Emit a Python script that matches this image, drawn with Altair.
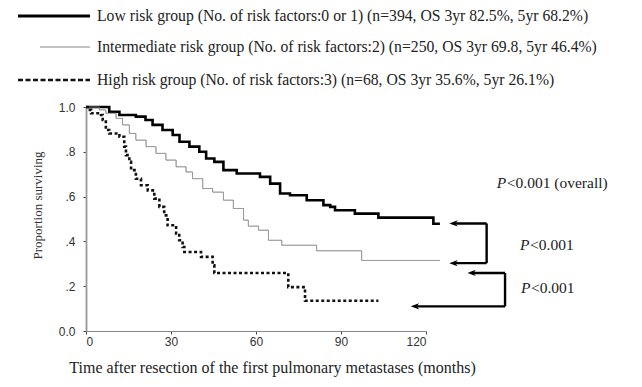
import altair as alt
import pandas as pd

# ---- data ----
low_t = [0, 8.2, 11.8, 17.6, 21, 23.5, 27, 30.6, 33, 36.5, 40, 42.4, 45.3, 48.5, 53.2, 61.4,
         65, 68.5, 72, 77.9, 83.8, 86.2, 87.9, 94.9, 103.2, 122.6, 124.9]
low_s = [1.0, 0.979, 0.964, 0.957, 0.942, 0.92, 0.897, 0.875, 0.845, 0.823, 0.80, 0.77, 0.755,
         0.718, 0.703, 0.688, 0.658, 0.614, 0.606, 0.584, 0.562, 0.554, 0.539, 0.524, 0.506,
         0.479, 0.479]
int_t = [0, 4.7, 7, 10.6, 12.9, 15.3, 17.6, 21.2, 24.7, 28.2, 31.8, 35.3, 37.6, 41.2, 44.7,
         48.5, 52, 55.6, 57.3, 60.9, 64.4, 69.1, 81.4, 97.3, 124.9]
int_s = [1.0, 0.987, 0.972, 0.949, 0.92, 0.882, 0.852, 0.823, 0.793, 0.763, 0.733, 0.71, 0.68,
         0.636, 0.62, 0.584, 0.547, 0.495, 0.468, 0.45, 0.405, 0.383, 0.358, 0.315, 0.315]
high_t = [0, 0.6, 1.8, 5.3, 5.9, 7, 8.2, 11.8, 13.5, 14.1, 15.3, 15.9, 17.6, 19.4, 21.8, 24.1,
          25.9, 27.6, 28.8, 31.8, 32.9, 34.1, 34.7, 40.6, 44.7, 45.3, 71.4, 77.3, 103.2]
high_s = [1.0, 0.987, 0.972, 0.964, 0.942, 0.897, 0.882, 0.867, 0.823, 0.785, 0.755, 0.718, 0.68,
          0.651, 0.628, 0.591, 0.554, 0.516, 0.472, 0.435, 0.405, 0.375, 0.353, 0.331, 0.293,
          0.259, 0.196, 0.135, 0.135]

groups = ["Low", "Intermediate", "High"]
legend_labels = [
    "Low risk group (No. of risk factors:0 or 1) (n=394, OS 3yr 82.5%, 5yr 68.2%)",
    "Intermediate  risk group (No. of risk factors:2) (n=250, OS 3yr 69.8, 5yr 46.4%)",
    "High risk group (No. of risk factors:3) (n=68, OS 3yr 35.6%, 5yr 26.1%)",
]

x_ticks = [0, 30, 60, 90, 120]
y_ticks = [0, 0.2, 0.4, 0.6, 0.8, 1.0]

# p-value annotations
p_x = [145, 153.2, 153.5]
p_y = [0.66, 0.383, 0.19]
p_rest = ["<0.001 (overall)", "<0.001", "<0.001"]

# comparison arrows (segments and heads)
seg_x1 = [129.7, 141.4, 129.7, 136.1, 147.9, 116.1]
seg_x2 = [141.4, 141.4, 141.4, 147.9, 147.9, 147.9]
seg_y1 = [0.48, 0.303, 0.303, 0.259, 0.11, 0.11]
seg_y2 = [0.48, 0.48, 0.303, 0.259, 0.259, 0.11]
head_x = [129.7, 129.7, 136.1, 116.1]
head_y = [0.48, 0.303, 0.259, 0.11]

X = alt.Scale(domain=[0, 120], nice=False, zero=False)
Y = alt.Scale(domain=[0, 1], nice=False)

serif = "Liberation Serif"

x_axis = alt.Axis(values=x_ticks, title="Time after resection of the first pulmonary metastases (months)",
                  titleX=186, titleY=36, titleFont=serif, titleFontSize=16,
                  titleFontWeight="normal", titleColor="#222", titleBaseline="middle",
                  labelFont="Liberation Sans", labelFontSize=12, labelColor="#333",
                  labelPadding=2, tickSize=3, tickColor="#444", domainColor="#888",
                  domainWidth=1.2, grid=False)
y_axis = alt.Axis(values=y_ticks, title="Proportion surviving",
                  labelExpr="datum.value == 0 ? '0.0' : (datum.value == 1 ? '1.0' : '.' + toString(round(datum.value*10)))",
                  titleX=-49, titleY=98, titleAngle=270, titleAlign="center",
                  titleBaseline="middle", titleFont=serif, titleFontSize=13,
                  titleFontWeight="normal", titleColor="#333",
                  labelFont="Liberation Sans", labelFontSize=12, labelColor="#333",
                  labelPadding=8, tickSize=3, tickColor="#444", domainColor="#999",
                  domainWidth=1.8, grid=False)

styles = {"Low": ("#000000", 2.6, [1, 0]),
          "Intermediate": ("#777777", 1.0, [1, 0]),
          "High": ("#111111", 2.6, [3, 2.5])}

curve_layers = []
for g, ts, ss in [("Low", low_t, low_s), ("Intermediate", int_t, int_s), ("High", high_t, high_s)]:
    df = pd.DataFrame({"t": ts, "s": ss, "group": g})
    c, w, d = styles[g]
    curve_layers.append(
        alt.Chart(df).mark_line(interpolate="step-after", color=c, strokeWidth=w,
                                strokeDash=d).encode(
            x=alt.X("t:Q", scale=X, axis=x_axis),
            y=alt.Y("s:Q", scale=Y, axis=y_axis)))

seg_df = pd.DataFrame({"x1": seg_x1, "x2": seg_x2, "y1": seg_y1, "y2": seg_y2})
segs = alt.Chart(seg_df).mark_rule(color="black", strokeWidth=2.4).encode(
    x=alt.X("x1:Q", scale=X, axis=x_axis), x2="x2:Q",
    y=alt.Y("y1:Q", scale=Y, axis=y_axis), y2="y2:Q")

head_df = pd.DataFrame({"x": head_x, "y": head_y})
heads = alt.Chart(head_df).mark_point(
    shape="M-1,0 L1,-0.75 L0.45,0 L1,0.75 Z", filled=True, color="black", size=70, opacity=1
).encode(x=alt.X("x:Q", scale=X, axis=x_axis), y=alt.Y("y:Q", scale=Y, axis=y_axis))

p_df = pd.DataFrame({"x": p_x, "y": p_y, "rest": p_rest, "p": ["P"] * 3})
p_it = alt.Chart(p_df).mark_text(font=serif, fontSize=15.5, fontStyle="italic", align="left",
                                  baseline="middle", color="#222").encode(
    x=alt.X("x:Q", scale=X, axis=x_axis), y=alt.Y("y:Q", scale=Y, axis=y_axis), text="p:N")
p_tx = alt.Chart(p_df).mark_text(font=serif, fontSize=15.5, align="left", dx=10,
                                  baseline="middle", color="#222").encode(
    x=alt.X("x:Q", scale=X, axis=x_axis), y=alt.Y("y:Q", scale=Y, axis=y_axis), text="rest:N")

# custom legend (pixel layout relative to plot origin)
leg_y = [-91, -60, -27]
leg_x1 = [-68, -46, -68]
leg_style = [("#000000", 3.2, [1, 0]), ("#888888", 1.0, [1, 0]), ("#111111", 2.4, [5, 2.5])]
legend_layers = []
for lbl, yy, x1, (c, w, d) in zip(legend_labels, leg_y, leg_x1, leg_style):
    ldf = pd.DataFrame({"label": [lbl]})
    legend_layers.append(
        alt.Chart(ldf).mark_rule(color=c, strokeWidth=w, strokeDash=d).encode(
            x=alt.value(x1), x2=alt.value(4), y=alt.value(yy)))
    legend_layers.append(
        alt.Chart(ldf).mark_text(font=serif, fontSize=15.7, align="left", baseline="middle",
                                 color="#222").encode(
            x=alt.value(11), y=alt.value(yy), text="label:N"))

chart = alt.layer(*curve_layers, segs, heads, p_it, p_tx, *legend_layers).properties(
    width=340, height=224,
    autosize=alt.AutoSizeParams(type="none"),
    padding={"left": 78, "top": 99, "right": 208, "bottom": 48},
    background="white",
).configure_view(stroke=None)

chart.save("out.html", embed_options={"renderer": "svg", "actions": False})
